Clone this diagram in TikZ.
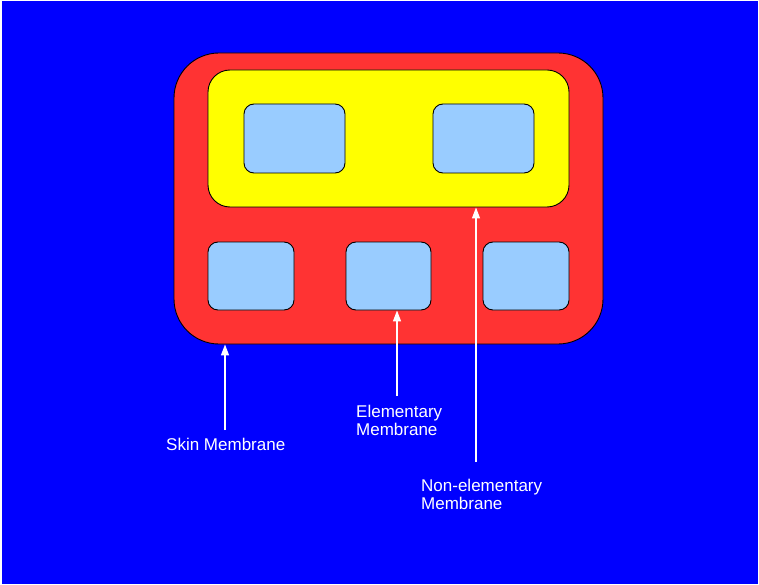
\documentclass[tikz,border=0pt]{standalone}
\usepackage{fontspec}
\setmainfont{Liberation Sans}
\usetikzlibrary{arrows.meta}
\definecolor{bgblue}{HTML}{0000FF}
\definecolor{skinred}{HTML}{FF3333}
\definecolor{regyellow}{HTML}{FFFF00}
\definecolor{cellblue}{HTML}{99CCFF}
\tikzset{
  membrane/.style={draw=black, line width=0.9pt, inner sep=0pt},
  cellbox/.style={membrane, fill=cellblue, rounded corners=10pt},
  pointer/.style={draw=white, line width=1.4pt, -{Triangle[width=8pt,length=11pt]}},
  caption/.style={text=white, anchor=base west, inner sep=0pt, font=\fontsize{17pt}{18pt}\selectfont, align=left}
}
\begin{document}
\begin{tikzpicture}[x=1pt,y=-1pt]
  \useasboundingbox (0,0) rectangle (759,585);
  \fill[white] (0,0) rectangle (759,585);
  \fill[bgblue] (1.5,1) rectangle (757.5,584);

  % skin membrane
  \node[membrane, fill=skinred, rounded corners=45pt, minimum width=429pt, minimum height=291pt] (skin) at (388.5,198.5) {};
  % non-elementary membrane
  \node[membrane, fill=regyellow, rounded corners=22pt, minimum width=361pt, minimum height=137pt] (inner) at (388.5,138.5) {};

  % elementary membranes inside the non-elementary one
  \node[cellbox, minimum width=101pt, minimum height=69pt] (c1) at (294.5,138.5) {};
  \node[cellbox, minimum width=101pt, minimum height=69pt] (c2) at (483.5,138.5) {};

  % elementary membranes inside the skin
  \node[cellbox, minimum width=86pt, minimum height=68pt] (c3) at (251,276) {};
  \node[cellbox, minimum width=85pt, minimum height=68pt] (c4) at (388.5,276) {};
  \node[cellbox, minimum width=86pt, minimum height=68pt] (c5) at (526,276) {};

  % labels (base anchor sits on the last line of a two-line label)
  \node[caption] (lskin) at (166,450) {Skin Membrane};
  \node[caption] (lelem) at (356,435) {Elementary\\Membrane};
  \node[caption] (lnon) at (421,509) {Non-elementary\\Membrane};

  % pointers from the labels to the membranes
  \coordinate (tskin) at (225,430);
  \coordinate (telem) at (397,396);
  \coordinate (tnon) at (476,462);
  \draw[pointer] (tskin) -- (tskin |- skin.south);
  \draw[pointer] (telem) -- (telem |- c4.south);
  \draw[pointer] (tnon) -- (tnon |- inner.south);
\end{tikzpicture}
\end{document}
